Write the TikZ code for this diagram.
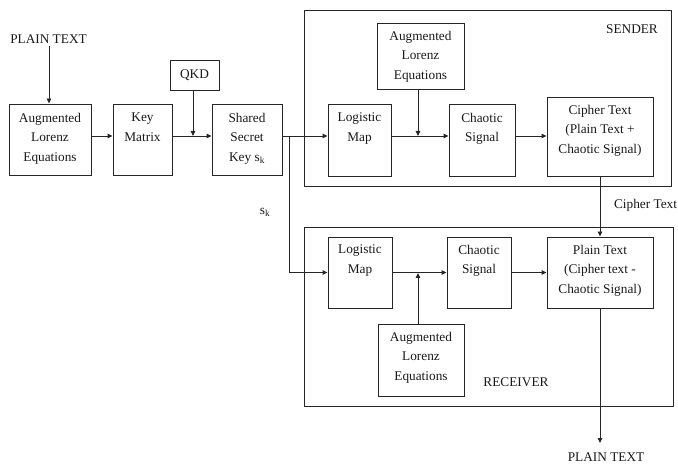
\documentclass[tikz,border=0pt]{standalone}
\usepackage{fontspec}
\setmainfont{Liberation Serif}
\usetikzlibrary{arrows.meta,calc}
\begin{document}
\begin{tikzpicture}[x=1pt,y=-1pt,
  line width=0.9pt, draw=black!85,
  every node/.style={font=\fontsize{13.3}{19.5}\selectfont, text=black!90},
  blk/.style={draw, inner sep=0pt},
  txt/.style={anchor=north, align=center, inner sep=0pt},
  lbl/.style={inner sep=0pt},
  arr/.style={-{Triangle[length=5pt,width=4.5pt]}}]
\useasboundingbox (0,0) rectangle (678,465);
% helper: box from corners
\newcommand{\blkbox}[5]{%
  \node[blk, minimum width={#4-#2}, minimum height={#5-#3}] (#1) at ({(#2+#4)/2},{(#3+#5)/2}) {};}
% outer boxes
\blkbox{sender}{304}{10}{671}{186}
\blkbox{recv}{304}{227}{673}{406}
% left chain
\blkbox{augL}{9}{104}{91}{175}
\blkbox{keyM}{113}{104}{172}{175}
\blkbox{qkd}{170}{60}{219}{90}
\blkbox{shared}{212}{104}{282}{175}
% sender
\blkbox{sAug}{377}{23}{464}{89}
\blkbox{sLog}{328}{104}{391}{176}
\blkbox{sCha}{449}{104}{515}{176}
\blkbox{sCip}{547}{97}{653}{176}
% receiver
\blkbox{rLog}{328}{237}{392}{308}
\blkbox{rCha}{447}{237}{511}{308}
\blkbox{rPla}{547}{237}{653}{308}
\blkbox{rAug}{378}{324}{464}{396}
% box texts
\node[txt] (augL-t) at ([yshift=-9pt]augL.north) {Augmented\\Lorenz\\Equations};
\node[txt] (keyM-t) at ([yshift=-9pt]keyM.north) {Key\\Matrix};
\node[lbl] (qkd-t) at (qkd.center) {QKD};
\node[txt] (shared-t) at ([yshift=-9pt]shared.north) {Shared\\Secret\\Key s\textsubscript{k}};
\node[txt] (sAug-t) at ([yshift=-8pt]sAug.north) {Augmented\\Lorenz\\Equations};
\node[txt] (sLog-t) at ([yshift=-9pt]sLog.north) {Logistic\\Map};
\node[txt] (sCha-t) at ([yshift=-9pt]sCha.north) {Chaotic\\Signal};
\node[txt] (sCip-t) at ([yshift=-8pt]sCip.north) {Cipher Text\\(Plain Text +\\Chaotic Signal)};
\node[txt] (rLog-t) at ([yshift=-8pt]rLog.north) {Logistic\\Map};
\node[txt] (rCha-t) at ([yshift=-8pt]rCha.north) {Chaotic\\Signal};
\node[txt] (rPla-t) at ([yshift=-8pt]rPla.north) {Plain Text\\(Cipher text -\\Chaotic Signal)};
\node[txt] (rAug-t) at ([yshift=-8pt]rAug.north) {Augmented\\Lorenz\\Equations};
% free labels
\node[lbl] (ptIn) at (48.5,39) {PLAIN TEXT};
\node[lbl] (ptOut) at (606,457) {PLAIN TEXT};
\node[lbl] (sndL) at (632,29) {SENDER};
\node[lbl] (rcvL) at (516,382) {RECEIVER};
\node[lbl] (skL) at (265,212) {s\textsubscript{k}};
\node[lbl, anchor=east] (ctL) at (677.5,205) {Cipher Text};
% coordinates
\coordinate (qkdJ) at (193,136);
\coordinate (br) at (289,136);
\coordinate (sAugJ) at (418,136);
\coordinate (rAugJ) at (418,273);
\coordinate (outEnd) at (600,443);
% connectors
\draw[arr] (49,46) -- (augL.north -| 49,0);
\draw[arr] ([yshift=3.5pt]augL.east) -- ([yshift=3.5pt]keyM.west);
\draw[arr] ([yshift=3.5pt]keyM.east) -- ([yshift=3.5pt]shared.west);
\draw[arr] (qkd.south -| qkdJ) -- (qkdJ);
\draw[arr] ([yshift=3.5pt]shared.east) -- (sLog.west |- br);
\draw[arr] (br) |- (rLog.west);
\draw[arr] (sLog.east |- br) -- (sCha.west |- br);
\draw[arr] (sAug.south -| sAugJ) -- (sAugJ);
\draw[arr] (sCha.east |- br) -- (sCip.west |- br);
\draw[arr] (sCip.south -| outEnd) -- (rPla.north -| outEnd);
\draw[arr] (rLog.east) -- (rCha.west);
\draw[arr] (rAug.north -| rAugJ) -- (rAugJ);
\draw[arr] (rCha.east) -- (rPla.west);
\draw[arr] (rPla.south -| outEnd) -- (outEnd);
\end{tikzpicture}
\end{document}
